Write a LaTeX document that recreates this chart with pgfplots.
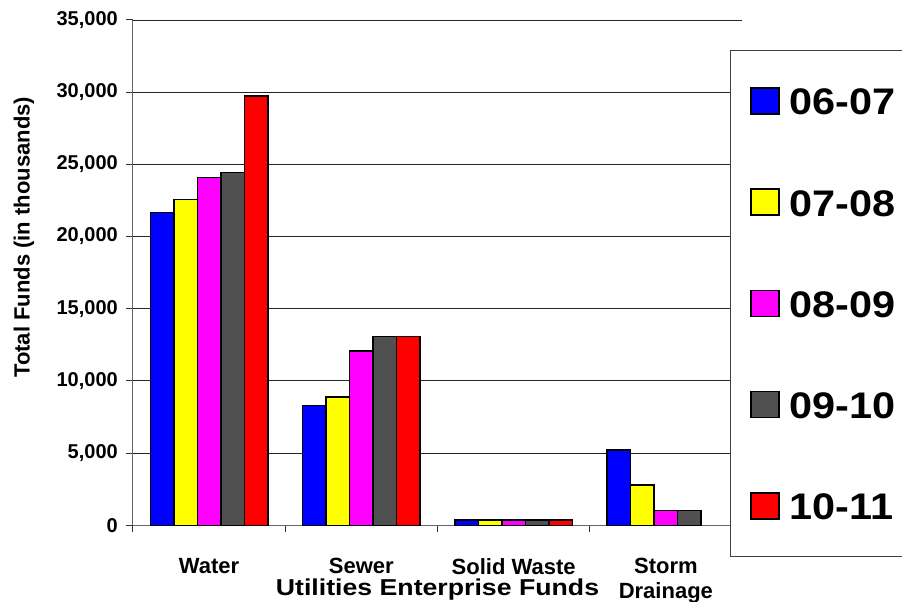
\documentclass[border=0pt]{standalone}
\usepackage{fontspec}
\setmainfont{Liberation Sans}
\usepackage{pgfplots}
\pgfplotsset{compat=1.18}
\definecolor{sblue}{RGB}{0,0,255}
\definecolor{syellow}{RGB}{255,255,0}
\definecolor{smagenta}{RGB}{255,0,255}
\definecolor{sgray}{RGB}{80,80,80}
\definecolor{sred}{RGB}{255,0,0}
\newcommand{\wide}[1]{\scalebox{1.12}[1]{#1}}
\begin{document}
\begin{tikzpicture}[x=1pt,y=1pt]
\begin{axis}[
  at={(133pt,76.7pt)}, anchor=south west,
  width=609pt, height=505.3pt, scale only axis,
  ybar=0pt, bar width=23.5pt,
  xmin=-0.5, xmax=3.5, ymin=0, ymax=35000,
  axis lines*=left,
  axis line style={-, black!60, line width=1pt},
  xtick={-0.5,0.5,1.5,2.5,3.5},
  xticklabels={Water,Sewer,Solid Waste,Storm\\Drainage},
  x tick label as interval,
  ytick={0,5000,...,35000},
  scaled y ticks=false,
  tick align=outside, major tick length=7pt,
  tick style={black!80, line width=1pt},
  ymajorgrids, grid style={black!85, line width=0.9pt},
  /pgf/number format/.cd, fixed, 1000 sep={,}, assume math mode=true, /pgfplots/.cd,
  yticklabel style={font=\fontsize{20}{24}\selectfont\bfseries, inner sep=0pt, xshift=-8pt},
  xticklabel style={font=\fontsize{22}{25}\selectfont\bfseries, align=center, inner sep=0pt, anchor=north, yshift=-26pt},
  xlabel={\scalebox{1.16}[1]{Utilities Enterprise Funds}},
  xlabel style={font=\fontsize{23}{26}\selectfont\bfseries, at={(axis description cs:0.5,-0.139)}, anchor=base},
  ylabel={Total Funds (in thousands)},
  ylabel style={font=\fontsize{22}{26}\selectfont\bfseries, at={(axis description cs:-0.179,0.57)}, anchor=center},
  every axis plot/.append style={draw=black, line width=1.5pt},
  legend image code/.code={\draw[#1, line width=1.5pt] (0pt,-12pt) rectangle (28pt,14pt);},
  legend style={at={(rel axis cs:0.98,0.9406)}, anchor=north west,
    draw=black!75, line width=1pt, fill=white,
    font=\fontsize{37}{37}\selectfont\bfseries,
    inner xsep=20pt, inner ysep=36.5pt, row sep=73.5pt, column sep=10pt,
    nodes={inner sep=0pt, text height=26pt, text depth=0pt}},
  legend cell align=left,
]
\addplot[fill=sblue] coordinates {(0,21650) (1,8300) (2,380) (3,5215)};
\addplot[fill=syellow] coordinates {(0,22550) (1,8900) (2,380) (3,2790)};
\addplot[fill=smagenta] coordinates {(0,24100) (1,12070) (2,380) (3,1010)};
\addplot[fill=sgray] coordinates {(0,24450) (1,13060) (2,380) (3,1010)};
\addplot[fill=sred] coordinates {(0,29750) (1,13060) (2,380)};
\legend{\wide{06-07},\wide{07-08},\wide{08-09},\wide{09-10},\wide{10-11}}
\end{axis}
\pgfresetboundingbox
\path[use as bounding box] (0,0) rectangle (902pt,602pt);
\end{tikzpicture}
\end{document}
